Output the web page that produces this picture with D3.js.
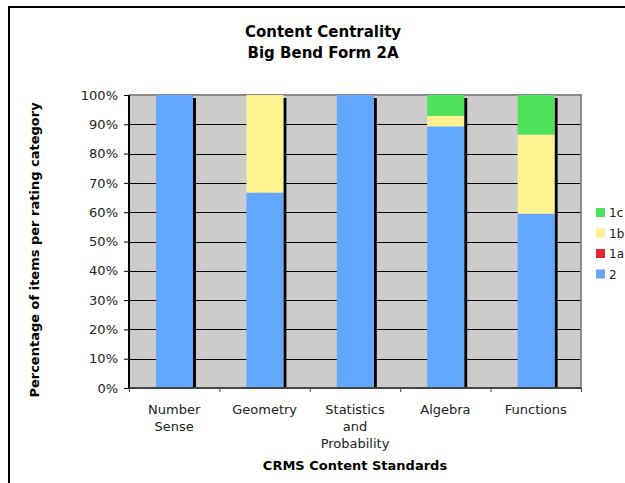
<!DOCTYPE html>
<html>
<head>
<meta charset="utf-8">
<script src="https://cdn.jsdelivr.net/npm/d3@7"></script>
<style>
  body { margin: 0; background: #fff; }
  text { font-family: "DejaVu Sans", Verdana, sans-serif; }
</style>
</head>
<body>
<svg width="625" height="483"></svg>
<script>
var categories = [["Number", "Sense"], ["Geometry"], ["Statistics", "and", "Probability"], ["Algebra"], ["Functions"]];
var keys = ["2", "1a", "1b", "1c"];
var s2  = [1.0, 0.667, 1.0, 0.893, 0.595];
var s1a = [0, 0, 0, 0, 0];
var s1b = [0, 0.333, 0, 0.036, 0.270];
var s1c = [0, 0, 0, 0.071, 0.135];
var yTicks = [0, 0.1, 0.2, 0.3, 0.4, 0.5, 0.6, 0.7, 0.8, 0.9, 1.0];

var colors = { "2": "#62a8ff", "1a": "#e0282e", "1b": "#fff38f", "1c": "#4de35a" };

var svg = d3.select("svg");
var plotLeft = 129, plotRight = 581, plotTop = 95, plotBottom = 388;

var data = categories.map(function(c, i) {
  return { i: i, "2": s2[i], "1a": s1a[i], "1b": s1b[i], "1c": s1c[i] };
});

var x = d3.scaleBand().domain(d3.range(categories.length)).range([plotLeft, plotRight]);
var y = d3.scaleLinear().domain([0, 1]).range([plotBottom, plotTop]);

// outer frame
svg.append("rect")
  .attr("x", 9).attr("y", 7).attr("width", 640).attr("height", 500)
  .attr("fill", "none").attr("stroke", "#000").attr("stroke-width", 2);

// plot background
svg.append("rect")
  .attr("x", plotLeft).attr("y", plotTop).attr("width", plotRight - plotLeft).attr("height", plotBottom - plotTop)
  .attr("fill", "#cccccc");

// gridlines
svg.append("g").selectAll("line")
  .data(yTicks.slice(1, -1))
  .enter().append("line")
    .attr("x1", plotLeft).attr("x2", plotRight)
    .attr("y1", function(d) { return Math.round(y(d)) + 0.5; })
    .attr("y2", function(d) { return Math.round(y(d)) + 0.5; })
    .attr("stroke", "#000").attr("stroke-width", 1);

// plot border top/right
svg.append("path")
  .attr("d", "M" + plotLeft + "," + plotTop + "H" + plotRight + "V" + plotBottom)
  .attr("fill", "none").attr("stroke", "#8a8a8a").attr("stroke-width", 2);

var barOff = 27, barW = 37;

// shadows
svg.append("g").selectAll("rect")
  .data(data)
  .enter().append("rect")
    .attr("x", function(d) { return x(d.i) + barOff + barW; })
    .attr("y", y(1) + 3)
    .attr("width", 3)
    .attr("height", plotBottom - y(1) - 3)
    .attr("fill", "#000");

var stack = d3.stack().keys(keys)(data);

svg.append("g").selectAll("g")
  .data(stack)
  .enter().append("g")
    .attr("fill", function(d) { return colors[d.key]; })
  .selectAll("rect")
  .data(function(d) { return d; })
  .enter().append("rect")
    .attr("x", function(d) { return x(d.data.i) + barOff; })
    .attr("y", function(d) { return y(d[1]); })
    .attr("width", barW)
    .attr("height", function(d) { return y(d[0]) - y(d[1]); });

// y axis
var yAxis = svg.append("g")
  .attr("transform", "translate(" + plotLeft + ",0)")
  .call(d3.axisLeft(y).tickValues(yTicks).tickFormat(d3.format(".0%")).tickSize(5).tickPadding(6));
yAxis.select(".domain").attr("stroke", "#000").attr("stroke-width", 2).attr("d", "M0," + plotTop + "V" + plotBottom);
yAxis.selectAll(".tick line").attr("stroke", "#000");
yAxis.selectAll("text").attr("font-size", 13).attr("fill", "#222");

// x axis
var xb = d3.scaleLinear().domain([0, categories.length]).range([plotLeft, plotRight]);
var xAxis = svg.append("g")
  .attr("transform", "translate(0," + plotBottom + ")")
  .call(d3.axisBottom(xb).ticks(5).tickFormat("").tickSize(4));
xAxis.select(".domain").attr("stroke", "#444").attr("stroke-width", 2).attr("d", "M" + plotLeft + ",0H" + plotRight);
xAxis.selectAll(".tick line").attr("stroke", "#444");

svg.append("g").selectAll("text")
  .data(categories)
  .enter().append("text")
    .attr("text-anchor", "middle")
    .attr("font-size", 13)
    .attr("fill", "#222")
    .attr("transform", function(d, i) { return "translate(" + (x(i) + x.bandwidth() / 2) + ",414)"; })
  .selectAll("tspan")
  .data(function(d) { return d; })
  .enter().append("tspan")
    .attr("x", 0)
    .attr("y", function(d, j) { return j * 17; })
    .text(function(d) { return d; });

// titles
svg.append("text")
  .attr("x", 323).attr("y", 37)
  .attr("text-anchor", "middle").attr("font-size", 15).attr("font-weight", "bold")
  .text("Content Centrality");
svg.append("text")
  .attr("x", 323).attr("y", 58)
  .attr("text-anchor", "middle").attr("font-size", 15).attr("font-weight", "bold")
  .text("Big Bend Form 2A");

svg.append("text")
  .attr("x", 355).attr("y", 470)
  .attr("text-anchor", "middle").attr("font-size", 13).attr("font-weight", "bold")
  .text("CRMS Content Standards");

svg.append("text")
  .attr("transform", "translate(39,250) rotate(-90)")
  .attr("text-anchor", "middle").attr("font-size", 13).attr("font-weight", "bold")
  .text("Percentage of items per rating category");

// legend
var legend = svg.append("g").selectAll("g")
  .data(keys.slice().reverse())
  .enter().append("g")
    .attr("transform", function(d, i) { return "translate(596," + (208 + i * 20.5) + ")"; });
legend.append("rect")
  .attr("width", 9).attr("height", 9)
  .attr("fill", function(d) { return colors[d]; });
legend.append("text")
  .attr("x", 13).attr("y", 9)
  .attr("font-size", 12).attr("fill", "#222")
  .text(function(d) { return d; });
</script>
</body>
</html>
